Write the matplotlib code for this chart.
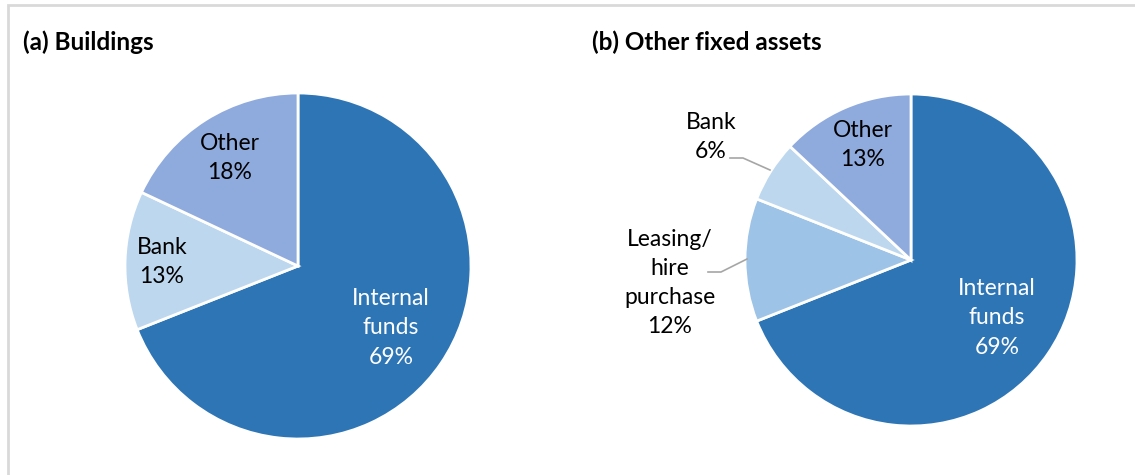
import matplotlib

matplotlib.use("Agg")
import matplotlib.pyplot as plt
from matplotlib.patches import Rectangle

plt.rcParams["font.family"] = ["Lato", "DejaVu Sans"]

# (a) Buildings - clockwise from 12 o'clock
bld_labels = ["Internal\nfunds", "Bank", "Other"]
bld_values = [69, 13, 18]
bld_colors = ["#2E75B6", "#BDD7EE", "#8FAADC"]

# (b) Other fixed assets - clockwise from 12 o'clock
ofa_labels = ["Internal\nfunds", "Leasing/\nhire\npurchase", "Bank", "Other"]
ofa_values = [69, 12, 6, 13]
ofa_colors = ["#2E75B6", "#9DC3E6", "#BDD7EE", "#8FAADC"]

W, H = 1135, 475
fig = plt.figure(figsize=(W / 100, H / 100), dpi=100)
ax = fig.add_axes([0, 0, 1, 1])

# light frame (only top and left edges fall inside the picture)
ax.add_patch(Rectangle((8, -10), W, H - 5 + 10, fill=False, edgecolor="#D9D9D9", lw=2))

wedge_kw = dict(edgecolor="white", linewidth=2)

ax.pie(bld_values, colors=bld_colors, startangle=90, counterclock=False,
       center=(298, H - 266), radius=173, wedgeprops=wedge_kw, frame=True)
ax.pie(ofa_values, colors=ofa_colors, startangle=90, counterclock=False,
       center=(911, H - 260), radius=166, wedgeprops=wedge_kw, frame=True)
ax.set_xlim(0, W)
ax.set_ylim(0, H)
ax.set_aspect("equal")
ax.axis("off")

ax.text(23, H - 42, "(a) Buildings", fontsize=17.5, fontweight="bold", va="center", ha="left")
ax.text(592, H - 42, "(b) Other fixed assets", fontsize=17.5, fontweight="bold", va="center", ha="left")

lbl = dict(fontsize=16.5, ha="center", va="center", linespacing=1.48)


def pct_label(x, y, name, val, color="black"):
    ax.text(x, H - y, f"{name}\n{val}%", color=color, **lbl)


# (a) labels
pct_label(391, 328, bld_labels[0], bld_values[0], color="white")
pct_label(162, 262, bld_labels[1], bld_values[1])
pct_label(230, 158, bld_labels[2], bld_values[2])

# (b) labels
pct_label(997, 318, ofa_labels[0], ofa_values[0], color="white")
pct_label(670, 283, ofa_labels[1], ofa_values[1])
pct_label(711, 137, ofa_labels[2], ofa_values[2])
pct_label(863, 145, ofa_labels[3], ofa_values[3])

# leader lines for the outside labels
ax.plot([730, 743, 770], [H - 158, H - 158, H - 170], color="#A6A6A6", lw=1.2)
ax.plot([708, 721, 747], [H - 272, H - 272, H - 259], color="#A6A6A6", lw=1.2)

fig.savefig("out.png", dpi=100)
plt.close(fig)
